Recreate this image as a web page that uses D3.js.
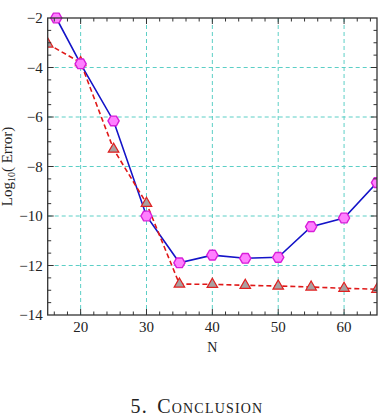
<!DOCTYPE html>
<html><head><meta charset="utf-8">
<script src="https://cdn.jsdelivr.net/npm/d3@7"></script>
<style>body{margin:0;background:#fff;} svg{display:block;}</style>
</head><body>
<script>
const blueN = [16.3, 20, 25, 30, 35, 40, 45, 50, 55, 60, 65];
const blueVals = [-2.0, -3.85, -6.16, -10.0, -11.89, -11.58, -11.71, -11.67, -10.43, -10.08, -8.65];
const redN = [15, 20, 25, 30, 35, 40, 45, 50, 55, 60, 65];
const redVals = [-3.05, -3.8, -7.3, -9.49, -12.75, -12.76, -12.8, -12.83, -12.87, -12.92, -12.96];
const xTicks = [20, 30, 40, 50, 60];
const yTicks = [-14, -12, -10, -8, -6, -4, -2];
const xLabel = "N";
const caption = "5. Conclusion";

const W = 382, H = 420;
const L = 47.7, R = 377, T = 18, B = 315;
const svg = d3.select("body").append("svg").attr("width", W).attr("height", H);
const x = d3.scaleLinear().domain([15, 65]).range([L, R]);
const y = d3.scaleLinear().domain([-14, -2]).range([B, T]);
const font = "'Liberation Serif', 'Times New Roman', serif";

// grid
const grid = svg.append("g").attr("stroke", "#5ccfc6").attr("stroke-width", 1).attr("stroke-dasharray", "4,3");
xTicks.forEach(t => grid.append("line").attr("x1", x(t)).attr("x2", x(t)).attr("y1", T).attr("y2", B));
yTicks.filter(t => t > -14 && t < -2).forEach(t => grid.append("line").attr("y1", y(t)).attr("y2", y(t)).attr("x1", L).attr("x2", R));

// clip
svg.append("clipPath").attr("id", "clip").append("rect").attr("x", L).attr("y", T - 8).attr("width", R - L).attr("height", B - T + 8);
const plot = svg.append("g").attr("clip-path", "url(#clip)");

const lineGen = d3.line().x(d => x(d[0])).y(d => y(d[1]));
const blue = blueN.map((n, i) => [n, blueVals[i]]);
const red = redN.map((n, i) => [n, redVals[i]]);

plot.append("path").attr("d", lineGen(blue)).attr("fill", "none").attr("stroke", "#1414c8").attr("stroke-width", 1.6);
plot.append("path").attr("d", lineGen(red)).attr("fill", "none").attr("stroke", "#e01818").attr("stroke-width", 1.6).attr("stroke-dasharray", "5,3");

// triangles
const tri = d3.symbol().type(d3.symbolTriangle).size(48);
plot.selectAll(".tri").data(red).enter().append("path")
  .attr("d", tri).attr("transform", d => `translate(${x(d[0])},${y(d[1])})`)
  .attr("fill", "#a8a0a0").attr("stroke", "#e02020").attr("stroke-width", 1.2);

// hexagons
const hr = 5.6;
const hex = d3.range(6).map(k => { const a = Math.PI / 3 * k; return [hr * Math.cos(a), hr * Math.sin(a)]; });
const hexPath = "M" + hex.map(p => p.join(",")).join("L") + "Z";
plot.selectAll(".hex").data(blue).enter().append("path")
  .attr("d", hexPath).attr("transform", d => `translate(${x(d[0])},${y(d[1])})`)
  .attr("fill", "#ff80ff").attr("stroke", "#d81ed8").attr("stroke-width", 1.4).attr("stroke-linejoin", "round");

// frame
svg.append("rect").attr("x", L).attr("y", T).attr("width", R - L).attr("height", B - T)
  .attr("fill", "none").attr("stroke", "#333").attr("stroke-width", 1.3);

// ticks
const tk = svg.append("g").attr("stroke", "#333").attr("stroke-width", 1);
d3.range(16, 65, 2).forEach(v => {
  const major = v % 10 === 0; const len = major ? 6 : 3.5;
  tk.append("line").attr("x1", x(v)).attr("x2", x(v)).attr("y1", B).attr("y2", B - len);
  tk.append("line").attr("x1", x(v)).attr("x2", x(v)).attr("y1", T).attr("y2", T + len);
});
d3.range(-13.5, -2, 0.5).forEach(v => {
  const major = Number.isInteger(v) && v % 2 === 0; const len = major ? 6 : 3.5;
  tk.append("line").attr("y1", y(v)).attr("y2", y(v)).attr("x1", L).attr("x2", L + len);
  tk.append("line").attr("y1", y(v)).attr("y2", y(v)).attr("x1", R).attr("x2", R - len);
});

// tick labels
svg.selectAll(".xt").data(xTicks).enter().append("text")
  .attr("x", d => x(d)).attr("y", B + 17).attr("text-anchor", "middle")
  .attr("font-family", font).attr("font-size", 15).attr("fill", "#222").text(d => d);
svg.selectAll(".yt").data(yTicks).enter().append("text")
  .attr("x", L - 5).attr("y", d => y(d) + 5).attr("text-anchor", "end")
  .attr("font-family", font).attr("font-size", 15).attr("fill", "#222").text(d => "\u2212" + Math.abs(d));

// axis labels
svg.append("text").attr("x", x(40)).attr("y", 352).attr("text-anchor", "middle")
  .attr("font-family", font).attr("font-size", 14).attr("fill", "#222").text(xLabel);
const yl = svg.append("text").attr("transform", `translate(12,${(T + B) / 2}) rotate(-90)`)
  .attr("text-anchor", "middle").attr("font-family", font).attr("font-size", 15).attr("fill", "#222");
yl.append("tspan").text("Log");
yl.append("tspan").attr("font-size", 10).attr("dy", 3).text("10");
yl.append("tspan").attr("dy", -3).text("( Error)");

// caption
svg.append("text").attr("x", 197).attr("y", 413).attr("text-anchor", "middle")
  .attr("font-family", font).attr("font-size", 20).attr("font-variant", "small-caps")
  .attr("letter-spacing", 1.2).attr("word-spacing", 3).attr("fill", "#222").text(caption);
</script>
</body></html>
